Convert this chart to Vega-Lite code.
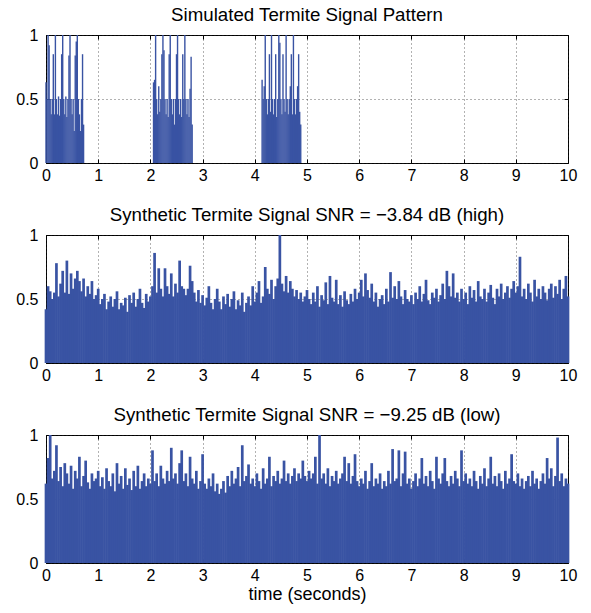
{
  "$schema": "https://vega.github.io/schema/vega-lite/v6.json",
  "padding": {"left": 15, "top": 5, "right": 5, "bottom": 0},
  "spacing": 21,
  "config": {
    "font": "Liberation Sans",
    "view": {"stroke": "#000", "strokeWidth": 1},
    "axis": {
      "labelFont": "Liberation Sans", "labelFontSize": 16, "labelColor": "#000", "labelFlush": false,
      "tickColor": "#000", "tickSize": -4, "domain": false,
      "gridColor": "#222", "gridDash": [1, 3], "gridOpacity": 0.7, "gridWidth": 1,
      "titleFont": "Liberation Sans", "titleFontSize": 18, "titleFontWeight": "normal", "titleColor": "#000"
    },
    "title": {"font": "Liberation Sans", "fontSize": 18.7, "fontWeight": "normal", "color": "#000", "offset": 2}
  },
  "datasets": {
    "pattern": [
      {"t":0.00,"v":0.63},{"t":0.02,"v":0.5},{"t":0.04,"v":1.0},{"t":0.06,"v":0.92},{"t":0.08,"v":0.5},{"t":0.10,"v":0.38},{"t":0.12,"v":0.5},{"t":0.14,"v":0.85},{"t":0.16,"v":0.38},{"t":0.18,"v":1.0},{"t":0.20,"v":0.5},{"t":0.22,"v":0.38},{"t":0.24,"v":0.52},{"t":0.26,"v":0.37},{"t":0.28,"v":0.5},{"t":0.30,"v":0.85},{"t":0.32,"v":1.0},{"t":0.34,"v":0.5},{"t":0.36,"v":0.38},{"t":0.38,"v":0.52},{"t":0.40,"v":0.36},{"t":0.42,"v":0.5},{"t":0.44,"v":0.84},{"t":0.46,"v":1.0},{"t":0.48,"v":0.5},{"t":0.50,"v":0.38},{"t":0.52,"v":0.5},{"t":0.54,"v":0.25},{"t":0.56,"v":0.84},{"t":0.58,"v":0.95},{"t":0.60,"v":1.0},{"t":0.62,"v":0.5},{"t":0.64,"v":0.38},{"t":0.66,"v":0.25},{"t":0.68,"v":0.5},{"t":0.70,"v":0.85},{"t":0.72,"v":0.3},
      {"t":2.06,"v":0.63},{"t":2.08,"v":0.65},{"t":2.10,"v":1.0},{"t":2.12,"v":0.5},{"t":2.14,"v":0.38},{"t":2.16,"v":0.6},{"t":2.18,"v":0.4},{"t":2.20,"v":0.5},{"t":2.22,"v":0.85},{"t":2.24,"v":1.0},{"t":2.26,"v":0.88},{"t":2.28,"v":0.5},{"t":2.30,"v":0.38},{"t":2.32,"v":0.5},{"t":2.34,"v":0.36},{"t":2.36,"v":0.85},{"t":2.38,"v":1.0},{"t":2.40,"v":0.5},{"t":2.42,"v":0.38},{"t":2.44,"v":0.5},{"t":2.46,"v":0.3},{"t":2.48,"v":0.5},{"t":2.50,"v":0.85},{"t":2.52,"v":1.0},{"t":2.54,"v":0.5},{"t":2.56,"v":0.38},{"t":2.58,"v":0.5},{"t":2.60,"v":0.36},{"t":2.62,"v":0.85},{"t":2.64,"v":0.5},{"t":2.66,"v":1.0},{"t":2.68,"v":0.5},{"t":2.70,"v":0.38},{"t":2.72,"v":0.5},{"t":2.74,"v":0.36},{"t":2.76,"v":0.58},{"t":2.78,"v":0.83},{"t":2.80,"v":0.3},
      {"t":4.14,"v":0.65},{"t":4.16,"v":0.5},{"t":4.18,"v":0.6},{"t":4.20,"v":1.0},{"t":4.22,"v":0.5},{"t":4.24,"v":0.38},{"t":4.26,"v":0.5},{"t":4.28,"v":0.85},{"t":4.30,"v":0.4},{"t":4.32,"v":1.0},{"t":4.34,"v":0.5},{"t":4.36,"v":0.38},{"t":4.38,"v":0.5},{"t":4.40,"v":0.85},{"t":4.42,"v":0.36},{"t":4.44,"v":0.5},{"t":4.46,"v":1.0},{"t":4.48,"v":0.94},{"t":4.50,"v":0.5},{"t":4.52,"v":0.38},{"t":4.54,"v":0.85},{"t":4.56,"v":0.5},{"t":4.58,"v":0.4},{"t":4.60,"v":1.0},{"t":4.62,"v":0.5},{"t":4.64,"v":0.38},{"t":4.66,"v":0.5},{"t":4.68,"v":0.6},{"t":4.70,"v":0.85},{"t":4.72,"v":0.38},{"t":4.74,"v":1.0},{"t":4.76,"v":0.5},{"t":4.78,"v":0.38},{"t":4.80,"v":0.5},{"t":4.82,"v":0.6},{"t":4.84,"v":0.85},{"t":4.86,"v":0.4},{"t":4.88,"v":0.3}
    ],
    "high": [
      {"t":0,"v":0.42},{"t":0.04,"v":0.60},{"t":0.08,"v":0.56},{"t":0.12,"v":0.50},{"t":0.16,"v":0.55},{"t":0.2,"v":0.78},{"t":0.24,"v":0.52},{"t":0.28,"v":0.62},{"t":0.32,"v":0.72},{"t":0.36,"v":0.55},{"t":0.4,"v":0.80},{"t":0.44,"v":0.54},{"t":0.48,"v":0.70},{"t":0.52,"v":0.58},{"t":0.56,"v":0.66},{"t":0.6,"v":0.72},{"t":0.64,"v":0.64},{"t":0.68,"v":0.56},{"t":0.72,"v":0.66},{"t":0.76,"v":0.52},{"t":0.8,"v":0.60},{"t":0.84,"v":0.54},{"t":0.88,"v":0.64},{"t":0.92,"v":0.50},{"t":0.96,"v":0.53},
      {"t":1,"v":0.58},{"t":1.04,"v":0.46},{"t":1.08,"v":0.50},{"t":1.12,"v":0.54},{"t":1.16,"v":0.42},{"t":1.2,"v":0.48},{"t":1.24,"v":0.52},{"t":1.28,"v":0.44},{"t":1.32,"v":0.50},{"t":1.36,"v":0.56},{"t":1.4,"v":0.42},{"t":1.44,"v":0.47},{"t":1.48,"v":0.45},{"t":1.52,"v":0.51},{"t":1.56,"v":0.40},{"t":1.6,"v":0.53},{"t":1.64,"v":0.47},{"t":1.68,"v":0.55},{"t":1.72,"v":0.44},{"t":1.76,"v":0.50},{"t":1.8,"v":0.58},{"t":1.84,"v":0.47},{"t":1.88,"v":0.43},{"t":1.92,"v":0.54},{"t":1.96,"v":0.48},
      {"t":2,"v":0.52},{"t":2.04,"v":0.60},{"t":2.08,"v":0.86},{"t":2.12,"v":0.55},{"t":2.16,"v":0.74},{"t":2.2,"v":0.58},{"t":2.24,"v":0.52},{"t":2.28,"v":0.74},{"t":2.32,"v":0.60},{"t":2.36,"v":0.54},{"t":2.4,"v":0.70},{"t":2.44,"v":0.52},{"t":2.48,"v":0.62},{"t":2.52,"v":0.55},{"t":2.56,"v":0.80},{"t":2.6,"v":0.60},{"t":2.64,"v":0.58},{"t":2.68,"v":0.53},{"t":2.72,"v":0.58},{"t":2.76,"v":0.76},{"t":2.8,"v":0.64},{"t":2.84,"v":0.55},{"t":2.88,"v":0.48},{"t":2.92,"v":0.57},{"t":2.96,"v":0.47},
      {"t":3,"v":0.53},{"t":3.04,"v":0.45},{"t":3.08,"v":0.51},{"t":3.12,"v":0.60},{"t":3.16,"v":0.47},{"t":3.2,"v":0.42},{"t":3.24,"v":0.50},{"t":3.28,"v":0.58},{"t":3.32,"v":0.48},{"t":3.36,"v":0.42},{"t":3.4,"v":0.52},{"t":3.44,"v":0.46},{"t":3.48,"v":0.54},{"t":3.52,"v":0.44},{"t":3.56,"v":0.50},{"t":3.6,"v":0.56},{"t":3.64,"v":0.42},{"t":3.68,"v":0.49},{"t":3.72,"v":0.45},{"t":3.76,"v":0.55},{"t":3.8,"v":0.40},{"t":3.84,"v":0.47},{"t":3.88,"v":0.52},{"t":3.92,"v":0.45},{"t":3.96,"v":0.60},
      {"t":4,"v":0.48},{"t":4.04,"v":0.55},{"t":4.08,"v":0.64},{"t":4.12,"v":0.47},{"t":4.16,"v":0.52},{"t":4.2,"v":0.75},{"t":4.24,"v":0.58},{"t":4.28,"v":0.54},{"t":4.32,"v":0.65},{"t":4.36,"v":0.50},{"t":4.4,"v":0.60},{"t":4.44,"v":0.66},{"t":4.48,"v":1.00},{"t":4.52,"v":0.62},{"t":4.56,"v":0.56},{"t":4.6,"v":0.68},{"t":4.64,"v":0.55},{"t":4.68,"v":0.64},{"t":4.72,"v":0.58},{"t":4.76,"v":0.52},{"t":4.8,"v":0.57},{"t":4.84,"v":0.50},{"t":4.88,"v":0.55},{"t":4.92,"v":0.48},{"t":4.96,"v":0.52},
      {"t":5,"v":0.57},{"t":5.04,"v":0.50},{"t":5.08,"v":0.46},{"t":5.12,"v":0.55},{"t":5.16,"v":0.48},{"t":5.2,"v":0.60},{"t":5.24,"v":0.44},{"t":5.28,"v":0.53},{"t":5.32,"v":0.49},{"t":5.36,"v":0.63},{"t":5.4,"v":0.46},{"t":5.44,"v":0.68},{"t":5.48,"v":0.51},{"t":5.52,"v":0.48},{"t":5.56,"v":0.65},{"t":5.6,"v":0.46},{"t":5.64,"v":0.53},{"t":5.68,"v":0.44},{"t":5.72,"v":0.56},{"t":5.76,"v":0.49},{"t":5.8,"v":0.46},{"t":5.84,"v":0.54},{"t":5.88,"v":0.48},{"t":5.92,"v":0.58},{"t":5.96,"v":0.50},
      {"t":6,"v":0.55},{"t":6.04,"v":0.65},{"t":6.08,"v":0.52},{"t":6.12,"v":0.70},{"t":6.16,"v":0.57},{"t":6.2,"v":0.51},{"t":6.24,"v":0.62},{"t":6.28,"v":0.48},{"t":6.32,"v":0.55},{"t":6.36,"v":0.44},{"t":6.4,"v":0.50},{"t":6.44,"v":0.53},{"t":6.48,"v":0.46},{"t":6.52,"v":0.58},{"t":6.56,"v":0.48},{"t":6.6,"v":0.71},{"t":6.64,"v":0.51},{"t":6.68,"v":0.60},{"t":6.72,"v":0.50},{"t":6.76,"v":0.64},{"t":6.8,"v":0.52},{"t":6.84,"v":0.46},{"t":6.88,"v":0.57},{"t":6.92,"v":0.50},{"t":6.96,"v":0.48},
      {"t":7,"v":0.53},{"t":7.04,"v":0.46},{"t":7.08,"v":0.55},{"t":7.12,"v":0.50},{"t":7.16,"v":0.60},{"t":7.2,"v":0.48},{"t":7.24,"v":0.54},{"t":7.28,"v":0.65},{"t":7.32,"v":0.49},{"t":7.36,"v":0.46},{"t":7.4,"v":0.55},{"t":7.44,"v":0.51},{"t":7.48,"v":0.58},{"t":7.52,"v":0.48},{"t":7.56,"v":0.53},{"t":7.6,"v":0.62},{"t":7.64,"v":0.50},{"t":7.68,"v":0.72},{"t":7.72,"v":0.60},{"t":7.76,"v":0.52},{"t":7.8,"v":0.70},{"t":7.84,"v":0.51},{"t":7.88,"v":0.55},{"t":7.92,"v":0.48},{"t":7.96,"v":0.58},
      {"t":8,"v":0.50},{"t":8.04,"v":0.55},{"t":8.08,"v":0.46},{"t":8.12,"v":0.60},{"t":8.16,"v":0.51},{"t":8.2,"v":0.57},{"t":8.24,"v":0.48},{"t":8.28,"v":0.64},{"t":8.32,"v":0.52},{"t":8.36,"v":0.50},{"t":8.4,"v":0.58},{"t":8.44,"v":0.48},{"t":8.48,"v":0.55},{"t":8.52,"v":0.61},{"t":8.56,"v":0.51},{"t":8.6,"v":0.46},{"t":8.64,"v":0.58},{"t":8.68,"v":0.52},{"t":8.72,"v":0.62},{"t":8.76,"v":0.50},{"t":8.8,"v":0.55},{"t":8.84,"v":0.60},{"t":8.88,"v":0.51},{"t":8.92,"v":0.58},{"t":8.96,"v":0.64},
      {"t":9,"v":0.55},{"t":9.04,"v":0.60},{"t":9.08,"v":0.83},{"t":9.12,"v":0.52},{"t":9.16,"v":0.58},{"t":9.2,"v":0.50},{"t":9.24,"v":0.62},{"t":9.28,"v":0.55},{"t":9.32,"v":0.48},{"t":9.36,"v":0.65},{"t":9.4,"v":0.52},{"t":9.44,"v":0.58},{"t":9.48,"v":0.50},{"t":9.52,"v":0.60},{"t":9.56,"v":0.55},{"t":9.6,"v":0.49},{"t":9.64,"v":0.58},{"t":9.68,"v":0.62},{"t":9.72,"v":0.51},{"t":9.76,"v":0.60},{"t":9.8,"v":0.54},{"t":9.84,"v":0.65},{"t":9.88,"v":0.50},{"t":9.92,"v":0.58},{"t":9.96,"v":0.68},{"t":10,"v":0.52}
    ],
    "low": [
      {"t":0,"v":0.62},{"t":0.04,"v":0.82},{"t":0.08,"v":1.00},{"t":0.12,"v":0.66},{"t":0.16,"v":0.72},{"t":0.2,"v":0.92},{"t":0.24,"v":0.64},{"t":0.28,"v":0.75},{"t":0.32,"v":0.60},{"t":0.36,"v":0.78},{"t":0.4,"v":0.70},{"t":0.44,"v":0.62},{"t":0.48,"v":0.76},{"t":0.52,"v":0.58},{"t":0.56,"v":0.72},{"t":0.6,"v":0.66},{"t":0.64,"v":0.83},{"t":0.68,"v":0.60},{"t":0.72,"v":0.68},{"t":0.76,"v":0.80},{"t":0.8,"v":0.63},{"t":0.84,"v":0.58},{"t":0.88,"v":0.70},{"t":0.92,"v":0.64},{"t":0.96,"v":0.66},
      {"t":1,"v":0.72},{"t":1.04,"v":0.60},{"t":1.08,"v":0.67},{"t":1.12,"v":0.58},{"t":1.16,"v":0.74},{"t":1.2,"v":0.64},{"t":1.24,"v":0.60},{"t":1.28,"v":0.70},{"t":1.32,"v":0.56},{"t":1.36,"v":0.78},{"t":1.4,"v":0.62},{"t":1.44,"v":0.68},{"t":1.48,"v":0.58},{"t":1.52,"v":0.74},{"t":1.56,"v":0.61},{"t":1.6,"v":0.66},{"t":1.64,"v":0.57},{"t":1.68,"v":0.72},{"t":1.72,"v":0.60},{"t":1.76,"v":0.76},{"t":1.8,"v":0.58},{"t":1.84,"v":0.64},{"t":1.88,"v":0.70},{"t":1.92,"v":0.60},{"t":1.96,"v":0.66},
      {"t":2,"v":0.62},{"t":2.04,"v":0.88},{"t":2.08,"v":0.64},{"t":2.12,"v":0.70},{"t":2.16,"v":0.60},{"t":2.2,"v":0.76},{"t":2.24,"v":0.66},{"t":2.28,"v":0.62},{"t":2.32,"v":0.72},{"t":2.36,"v":0.64},{"t":2.4,"v":0.90},{"t":2.44,"v":0.66},{"t":2.48,"v":0.70},{"t":2.52,"v":0.62},{"t":2.56,"v":0.78},{"t":2.6,"v":0.88},{"t":2.64,"v":0.64},{"t":2.68,"v":0.70},{"t":2.72,"v":0.60},{"t":2.76,"v":0.83},{"t":2.8,"v":0.66},{"t":2.84,"v":0.62},{"t":2.88,"v":0.72},{"t":2.92,"v":0.58},{"t":2.96,"v":0.64},
      {"t":3,"v":0.85},{"t":3.04,"v":0.62},{"t":3.08,"v":0.58},{"t":3.12,"v":0.66},{"t":3.16,"v":0.60},{"t":3.2,"v":0.70},{"t":3.24,"v":0.56},{"t":3.28,"v":0.62},{"t":3.32,"v":0.54},{"t":3.36,"v":0.58},{"t":3.4,"v":0.64},{"t":3.44,"v":0.55},{"t":3.48,"v":0.68},{"t":3.52,"v":0.60},{"t":3.56,"v":0.72},{"t":3.6,"v":0.62},{"t":3.64,"v":0.66},{"t":3.68,"v":0.75},{"t":3.72,"v":0.60},{"t":3.76,"v":0.92},{"t":3.8,"v":0.64},{"t":3.84,"v":0.68},{"t":3.88,"v":0.77},{"t":3.92,"v":0.62},{"t":3.96,"v":0.66},
      {"t":4,"v":0.60},{"t":4.04,"v":0.70},{"t":4.08,"v":0.64},{"t":4.12,"v":0.58},{"t":4.16,"v":0.74},{"t":4.2,"v":0.62},{"t":4.24,"v":0.66},{"t":4.28,"v":0.83},{"t":4.32,"v":0.60},{"t":4.36,"v":0.68},{"t":4.4,"v":0.64},{"t":4.44,"v":0.72},{"t":4.48,"v":0.62},{"t":4.52,"v":0.66},{"t":4.56,"v":0.80},{"t":4.6,"v":0.64},{"t":4.64,"v":0.70},{"t":4.68,"v":0.62},{"t":4.72,"v":0.68},{"t":4.76,"v":0.74},{"t":4.8,"v":0.64},{"t":4.84,"v":0.70},{"t":4.88,"v":0.66},{"t":4.92,"v":0.80},{"t":4.96,"v":0.68},
      {"t":5,"v":0.64},{"t":5.04,"v":0.72},{"t":5.08,"v":0.66},{"t":5.12,"v":0.70},{"t":5.16,"v":0.83},{"t":5.2,"v":0.62},{"t":5.24,"v":1.00},{"t":5.28,"v":0.66},{"t":5.32,"v":0.70},{"t":5.36,"v":0.62},{"t":5.4,"v":0.74},{"t":5.44,"v":0.60},{"t":5.48,"v":0.68},{"t":5.52,"v":0.64},{"t":5.56,"v":0.72},{"t":5.6,"v":0.62},{"t":5.64,"v":0.66},{"t":5.68,"v":0.70},{"t":5.72,"v":0.83},{"t":5.76,"v":0.64},{"t":5.8,"v":0.78},{"t":5.84,"v":0.62},{"t":5.88,"v":0.68},{"t":5.92,"v":0.85},{"t":5.96,"v":0.64},
      {"t":6,"v":0.60},{"t":6.04,"v":0.66},{"t":6.08,"v":0.62},{"t":6.12,"v":0.72},{"t":6.16,"v":0.58},{"t":6.2,"v":0.64},{"t":6.24,"v":0.78},{"t":6.28,"v":0.60},{"t":6.32,"v":0.66},{"t":6.36,"v":0.62},{"t":6.4,"v":0.70},{"t":6.44,"v":0.58},{"t":6.48,"v":0.64},{"t":6.52,"v":0.60},{"t":6.56,"v":0.72},{"t":6.6,"v":0.62},{"t":6.64,"v":0.89},{"t":6.68,"v":0.64},{"t":6.72,"v":0.66},{"t":6.76,"v":0.88},{"t":6.8,"v":0.60},{"t":6.84,"v":0.70},{"t":6.88,"v":0.87},{"t":6.92,"v":0.62},{"t":6.96,"v":0.66},
      {"t":7,"v":0.58},{"t":7.04,"v":0.64},{"t":7.08,"v":0.70},{"t":7.12,"v":0.60},{"t":7.16,"v":0.66},{"t":7.2,"v":0.82},{"t":7.24,"v":0.62},{"t":7.28,"v":0.68},{"t":7.32,"v":0.60},{"t":7.36,"v":0.72},{"t":7.4,"v":0.64},{"t":7.44,"v":0.58},{"t":7.48,"v":0.83},{"t":7.52,"v":0.66},{"t":7.56,"v":0.62},{"t":7.6,"v":0.70},{"t":7.64,"v":0.82},{"t":7.68,"v":0.64},{"t":7.72,"v":0.60},{"t":7.76,"v":0.68},{"t":7.8,"v":0.62},{"t":7.84,"v":0.72},{"t":7.88,"v":0.66},{"t":7.92,"v":0.60},{"t":7.96,"v":0.88},
      {"t":8,"v":0.64},{"t":8.04,"v":0.70},{"t":8.08,"v":0.62},{"t":8.12,"v":0.66},{"t":8.16,"v":0.60},{"t":8.2,"v":0.72},{"t":8.24,"v":0.64},{"t":8.28,"v":0.58},{"t":8.32,"v":0.68},{"t":8.36,"v":0.62},{"t":8.4,"v":0.74},{"t":8.44,"v":0.60},{"t":8.48,"v":0.66},{"t":8.52,"v":0.83},{"t":8.56,"v":0.62},{"t":8.6,"v":0.68},{"t":8.64,"v":0.60},{"t":8.68,"v":0.70},{"t":8.72,"v":0.64},{"t":8.76,"v":0.58},{"t":8.8,"v":0.72},{"t":8.84,"v":0.62},{"t":8.88,"v":0.66},{"t":8.92,"v":0.85},{"t":8.96,"v":0.64},
      {"t":9,"v":0.62},{"t":9.04,"v":0.70},{"t":9.08,"v":0.60},{"t":9.12,"v":0.66},{"t":9.16,"v":0.58},{"t":9.2,"v":0.64},{"t":9.24,"v":0.68},{"t":9.28,"v":0.60},{"t":9.32,"v":0.72},{"t":9.36,"v":0.62},{"t":9.4,"v":0.66},{"t":9.44,"v":0.58},{"t":9.48,"v":0.64},{"t":9.52,"v":0.70},{"t":9.56,"v":0.62},{"t":9.6,"v":0.82},{"t":9.64,"v":0.66},{"t":9.68,"v":0.74},{"t":9.72,"v":0.60},{"t":9.76,"v":0.68},{"t":9.8,"v":0.98},{"t":9.84,"v":0.64},{"t":9.88,"v":0.70},{"t":9.92,"v":0.60},{"t":9.96,"v":0.66},{"t":10,"v":0.62}
    ]
  },
  "vconcat": [
    {
      "width": 522, "height": 128,
      "title": "Simulated Termite Signal Pattern",
      "data": {"name": "pattern"},
      "layer": [
        {
          "mark": {"type": "rule", "color": "#3953a3", "strokeWidth": 1.4},
          "encoding": {
            "x": {"field": "t", "type": "quantitative", "scale": {"domain": [0, 10], "nice": false},
                  "axis": {"values": [0,1,2,3,4,5,6,7,8,9,10], "format": "d", "title": null, "labelPadding": 8, "grid": true}},
            "y": {"field": "v", "type": "quantitative", "scale": {"domain": [0, 1], "nice": false},
                  "axis": {"values": [0, 0.5, 1], "format": "~g", "title": null, "labelPadding": 12, "grid": true}},
            "y2": {"datum": 0}
          }
        },
        {
          "mark": {"type": "rule", "opacity": 0},
          "encoding": {
            "x": {"field": "t", "type": "quantitative", "axis": {"orient": "top", "values": [0,1,2,3,4,5,6,7,8,9,10], "labels": false, "title": null, "grid": false}},
            "y": {"field": "v", "type": "quantitative", "axis": {"orient": "right", "values": [0, 0.5, 1], "labels": false, "title": null, "grid": false}}
          }
        }
      ],
      "resolve": {"axis": {"x": "independent", "y": "independent"}}
    },
    {
      "width": 522, "height": 128,
      "title": "Synthetic Termite Signal SNR = \u22123.84 dB (high)",
      "data": {"name": "high"},
      "layer": [
        {
          "mark": {"type": "rule", "color": "#3953a3", "strokeWidth": 2.7},
          "encoding": {
            "x": {"field": "t", "type": "quantitative", "scale": {"domain": [0, 10], "nice": false},
                  "axis": {"values": [0,1,2,3,4,5,6,7,8,9,10], "format": "d", "title": null, "labelPadding": 8, "grid": true}},
            "y": {"field": "v", "type": "quantitative", "scale": {"domain": [0, 1], "nice": false},
                  "axis": {"values": [0, 0.5, 1], "format": "~g", "title": null, "labelPadding": 12, "grid": true}},
            "y2": {"datum": 0}
          }
        },
        {
          "mark": {"type": "rule", "opacity": 0},
          "encoding": {
            "x": {"field": "t", "type": "quantitative", "axis": {"orient": "top", "values": [0,1,2,3,4,5,6,7,8,9,10], "labels": false, "title": null, "grid": false}},
            "y": {"field": "v", "type": "quantitative", "axis": {"orient": "right", "values": [0, 0.5, 1], "labels": false, "title": null, "grid": false}}
          }
        }
      ],
      "resolve": {"axis": {"x": "independent", "y": "independent"}}
    },
    {
      "width": 522, "height": 128,
      "title": "Synthetic Termite Signal SNR = \u22129.25 dB (low)",
      "data": {"name": "low"},
      "layer": [
        {
          "mark": {"type": "rule", "color": "#3953a3", "strokeWidth": 2.7},
          "encoding": {
            "x": {"field": "t", "type": "quantitative", "scale": {"domain": [0, 10], "nice": false},
                  "axis": {"values": [0,1,2,3,4,5,6,7,8,9,10], "format": "d", "title": "time (seconds)", "labelPadding": 8, "titlePadding": 2, "grid": true}},
            "y": {"field": "v", "type": "quantitative", "scale": {"domain": [0, 1], "nice": false},
                  "axis": {"values": [0, 0.5, 1], "format": "~g", "title": null, "labelPadding": 12, "grid": true}},
            "y2": {"datum": 0}
          }
        },
        {
          "mark": {"type": "rule", "opacity": 0},
          "encoding": {
            "x": {"field": "t", "type": "quantitative", "axis": {"orient": "top", "values": [0,1,2,3,4,5,6,7,8,9,10], "labels": false, "title": null, "grid": false}},
            "y": {"field": "v", "type": "quantitative", "axis": {"orient": "right", "values": [0, 0.5, 1], "labels": false, "title": null, "grid": false}}
          }
        }
      ],
      "resolve": {"axis": {"x": "independent", "y": "independent"}}
    }
  ]
}
